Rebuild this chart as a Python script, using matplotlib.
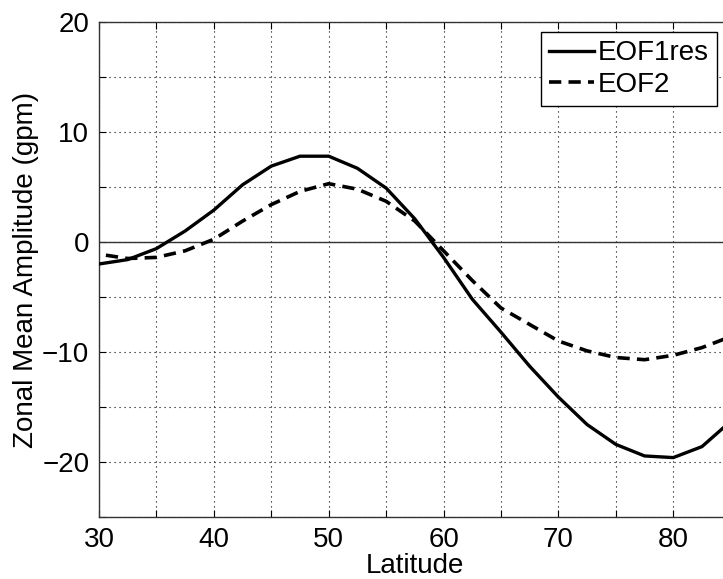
import matplotlib
matplotlib.use("Agg")
import matplotlib.pyplot as plt
import numpy as np

lat1 = [30, 32.5, 35, 37.5, 40, 42.5, 45, 47.5, 50, 52.5, 55, 57.5, 60, 62.5, 65,
        67.5, 70, 72.5, 75, 77.5, 80, 82.5, 85]
eof1res = [-2.0, -1.6, -0.6, 1.0, 2.9, 5.2, 6.9, 7.8, 7.8, 6.7, 4.9, 2.1, -1.4, -5.2, -8.2,
           -11.3, -14.1, -16.6, -18.4, -19.45, -19.6, -18.6, -16.3]
lat2 = [30.6, 32.5, 35, 37.5, 40, 42.5, 45, 47.5, 50, 52.5, 55, 57.5, 60, 62.5, 65,
        67.5, 70, 72.5, 75, 77.5, 80, 82.5, 85]
eof2 = [-1.2, -1.5, -1.4, -0.8, 0.25, 1.9, 3.4, 4.6, 5.3, 4.8, 3.7, 1.9, -0.8, -3.5, -6.0,
        -7.5, -9.0, -9.9, -10.5, -10.7, -10.3, -9.6, -8.6]

xticks = np.arange(30, 86, 5)
xticklabels = ["30", "", "40", "", "50", "", "60", "", "70", "", "80", ""]
yticks = np.arange(-25, 21, 5)
yticklabels = ["", "\u221220", "", "\u221210", "", "0", "", "10", "", "20"]

plt.rcParams['font.family'] = ['Liberation Sans', 'DejaVu Sans']
fs = 20

fig = plt.figure(figsize=(7.23, 5.79), dpi=100)
ax = fig.add_axes([99/723, 1-517/579, (730.7-99)/723, (517-22)/579])

ax.axhline(0, color='#333333', lw=1.0, zorder=2)
ax.plot(lat1, eof1res, color='black', lw=2.4, label='EOF1res', zorder=3)
ax.plot(lat2, eof2, color='black', lw=2.6, linestyle=(0, (3.4, 2.0)), label='EOF2', zorder=3)

ax.set_xlim(30, 85)
ax.set_ylim(-25, 20)
ax.set_xticks(xticks)
ax.set_xticklabels(xticklabels)
ax.set_yticks(yticks)
ax.set_yticklabels(yticklabels)
ax.tick_params(direction='in', length=5, width=0.8, top=True, right=True,
               labelsize=fs, pad=7, colors='black')
ax.grid(True, linestyle=(0, (1, 3.5)), color='black', lw=0.8)
for s in ax.spines.values():
    s.set_linewidth(1.0)
    s.set_color('#333333')

ax.set_xlabel('Latitude', fontsize=fs, labelpad=0)
ax.set_ylabel('Zonal Mean Amplitude (gpm)', fontsize=fs, labelpad=2)

leg = ax.legend(loc='upper right', bbox_to_anchor=(717/723, 1-32/579),
                bbox_transform=fig.transFigure, borderaxespad=0, fancybox=False,
                edgecolor='black', framealpha=1, fontsize=fs, handlelength=1.6,
                handletextpad=0.15, labelspacing=0.2, borderpad=0.3)
leg.get_frame().set_linewidth(1.0)

fig.savefig('out.png', dpi=100)
